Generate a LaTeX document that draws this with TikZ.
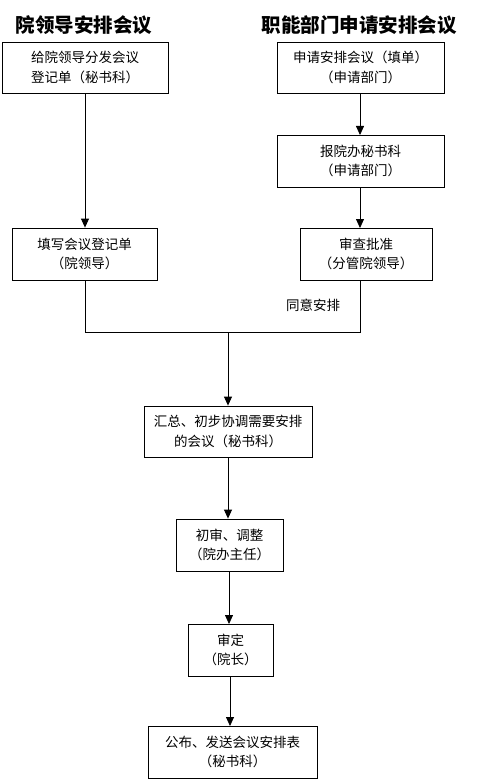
\documentclass[tikz,border=0pt]{standalone}
\usepackage{fontspec}
\setmainfont{Noto Sans CJK SC}
\usetikzlibrary{arrows.meta}
\begin{document}
\begin{tikzpicture}[x=1pt,y=-1pt,
  box/.style={draw,line width=0.8pt,inner sep=0pt,align=center,
    font=\fontsize{13.5pt}{19.5pt}\selectfont},
  title/.style={inner sep=0pt,font=\fontsize{19.5pt}{22pt}\selectfont\bfseries},
  lbl/.style={inner sep=0pt,font=\fontsize{13.5pt}{16pt}\selectfont},
  arr/.style={line width=0.8pt,-{Triangle[width=8pt,length=9pt]}},
  ln/.style={line width=0.8pt}]
\useasboundingbox (0,0) rectangle (483,781);
\node[title] (t1) at (84,25.5) {院领导安排会议};
\node[title] (t2) at (359,25.5) {职能部门申请安排会议};
\node[box,minimum width=166pt,minimum height=51pt] (b1) at (85,67.5) {给院领导分发会议\\登记单（秘书科）};
\node[box,minimum width=145pt,minimum height=52pt] (b2) at (84.5,254) {填写会议登记单\\（院领导）};
\node[box,minimum width=167pt,minimum height=51pt] (r1) at (360.5,67.5) {申请安排会议（填单）\\（申请部门）};
\node[box,minimum width=167pt,minimum height=52pt] (r2) at (360.5,161) {报院办秘书科\\（申请部门）};
\node[box,minimum width=132pt,minimum height=52pt] (r3) at (366,254) {审查批准\\（分管院领导）};
\node[lbl] (ok) at (313,305.5) {同意安排};
\node[box,minimum width=168pt,minimum height=51pt] (c1) at (228,431.5) {汇总、初步协调需要安排\\的会议（秘书科）};
\node[box,minimum width=107pt,minimum height=52pt] (c2) at (229.5,545) {初审、调整\\（院办主任）};
\node[box,minimum width=85pt,minimum height=52pt] (c3) at (230.5,650) {审定\\（院长）};
\node[box,minimum width=169pt,minimum height=52pt] (c4) at (232.5,752) {公布、发送会议安排表\\（秘书科）};
\coordinate (jl) at (85,332);
\coordinate (jr) at (360,332);
\coordinate (jm) at (228,332);
\draw[arr] (b1.south) -- (b1.south |- b2.north);
\draw[arr] (360,93.5) -- (360,135);
\draw[arr] (360,187) -- (360,228);
\draw[ln] (b2.south -| jl) -- (jl) -- (jr) -- (jr |- r3.south);
\draw[arr] (jm) -- (jm |- c1.north);
\draw[arr] (c1.south) -- (c1.south |- c2.north);
\draw[arr] (229,571) -- (229,624);
\draw[arr] (230,676) -- (230,726);
\end{tikzpicture}
\end{document}
